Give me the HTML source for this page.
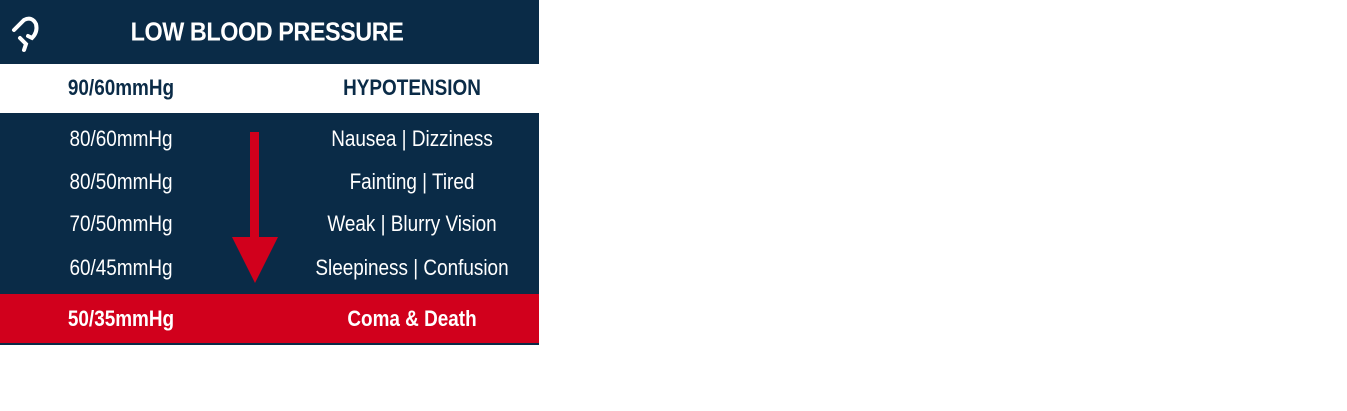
<!DOCTYPE html>
<html><head><meta charset="utf-8"><style>
body{margin:0;width:1347px;height:411px;background:#fff;position:relative;overflow:hidden;font-family:"Liberation Sans",sans-serif}
.b{position:absolute;left:0;width:539px}
.t{position:absolute;transform:translate(-50%,-50%) scaleX(0.86);white-space:nowrap;font-size:22px}
</style></head><body>
<div class="b" style="top:0;height:64px;background:#0a2b47"></div>
<div class="b" style="top:64px;height:49px;background:#fff"></div>
<div class="b" style="top:113px;height:181px;background:#0a2b47"></div>
<div class="b" style="top:294px;height:49px;background:#d1001c"></div>
<div class="b" style="top:343px;height:2px;background:#0a2b47"></div>
<svg style="position:absolute;left:10px;top:14px" width="34" height="40" viewBox="0 0 34 40">
<path d="M4 16 L14 6 Q22 2 26 10 Q28 18 22 24 L18 22 M10 24 L16 30 L14 36" fill="none" stroke="#fff" stroke-width="4" stroke-linecap="round"/></svg>
<div class="t" style="left:267px;top:32px;color:#fff;font-weight:bold;font-size:26px;letter-spacing:-0.5px;transform:translate(-50%,-50%) scaleX(0.9)">LOW BLOOD PRESSURE</div>
<div class="t" style="left:121px;top:88px;color:#0a2b47;font-weight:bold">90/60mmHg</div>
<div class="t" style="left:412px;top:88px;color:#0a2b47;font-weight:bold">HYPOTENSION</div>
<div class="t" style="left:121px;top:139px;color:#fff">80/60mmHg</div>
<div class="t" style="left:412px;top:139px;color:#fff">Nausea | Dizziness</div>
<div class="t" style="left:121px;top:182px;color:#fff">80/50mmHg</div>
<div class="t" style="left:412px;top:182px;color:#fff">Fainting | Tired</div>
<div class="t" style="left:121px;top:224px;color:#fff">70/50mmHg</div>
<div class="t" style="left:412px;top:224px;color:#fff">Weak | Blurry Vision</div>
<div class="t" style="left:121px;top:268px;color:#fff">60/45mmHg</div>
<div class="t" style="left:412px;top:268px;color:#fff">Sleepiness | Confusion</div>
<div class="t" style="left:121px;top:319px;color:#fff;font-weight:bold">50/35mmHg</div>
<div class="t" style="left:412px;top:319px;color:#fff;font-weight:bold">Coma &amp; Death</div>
<svg style="position:absolute;left:230px;top:130px" width="50" height="156">
<rect x="20" y="2" width="9" height="110" fill="#d1001c"/>
<polygon points="2,107 48,107 25,153" fill="#d1001c"/></svg>
</body></html>
